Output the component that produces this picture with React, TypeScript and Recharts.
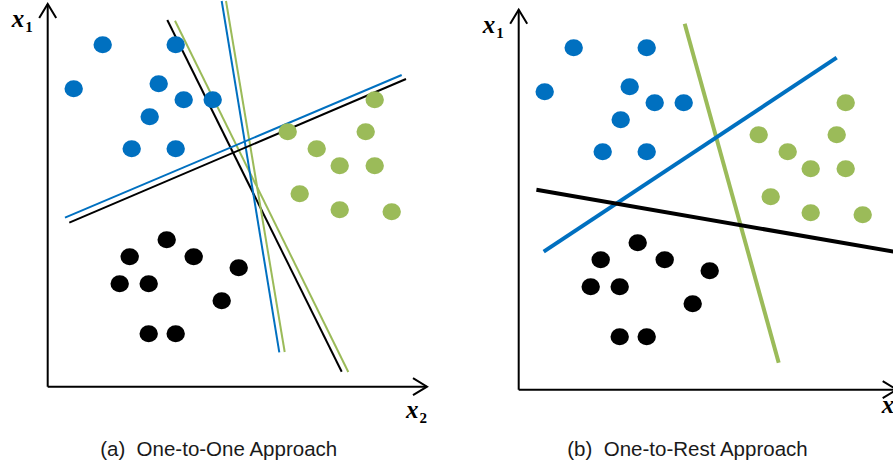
import { ReferenceLine, Scatter, ScatterChart, XAxis, YAxis } from "recharts";

type ClassKey = "blue" | "green" | "black";
type Pt = { x: number; y: number };
type Boundary = { cls: ClassKey; x1: number; y1: number; x2: number; y2: number };

// feature space (x2 across, x1 up), same samples in both panels
const blueClass: Pt[] = [
  { x: 5.5, y: 34.2 },
  { x: 12.8, y: 34.2 },
  { x: 2.6, y: 29.8 },
  { x: 11.1, y: 30.3 },
  { x: 13.6, y: 28.7 },
  { x: 16.5, y: 28.7 },
  { x: 10.2, y: 27.0 },
  { x: 8.4, y: 23.8 },
  { x: 12.8, y: 23.8 },
];

const greenClass: Pt[] = [
  { x: 32.7, y: 28.7 },
  { x: 24.0, y: 25.5 },
  { x: 31.8, y: 25.5 },
  { x: 26.9, y: 23.8 },
  { x: 29.2, y: 22.1 },
  { x: 32.7, y: 22.1 },
  { x: 25.2, y: 19.3 },
  { x: 29.2, y: 17.7 },
  { x: 34.4, y: 17.5 },
];

const blackClass: Pt[] = [
  { x: 11.9, y: 14.7 },
  { x: 8.2, y: 13.0 },
  { x: 14.6, y: 13.0 },
  { x: 19.1, y: 11.9 },
  { x: 7.2, y: 10.3 },
  { x: 10.1, y: 10.3 },
  { x: 17.4, y: 8.6 },
  { x: 10.1, y: 5.3 },
  { x: 12.8, y: 5.3 },
];

// pairwise separators
const oneToOneBoundaries: Boundary[] = [
  { cls: "black", x1: 11.96, y1: 36.67, x2: 29.4, y2: 1.5 },
  { cls: "green", x1: 12.73, y1: 36.6, x2: 30.06, y2: 1.47 },
  { cls: "blue", x1: 17.4, y1: 38.57, x2: 23.16, y2: 3.44 },
  { cls: "green", x1: 17.83, y1: 38.57, x2: 23.7, y2: 3.47 },
  { cls: "blue", x1: 1.73, y1: 16.9, x2: 35.4, y2: 31.17 },
  { cls: "black", x1: 2.16, y1: 16.4, x2: 35.83, y2: 30.77 },
];

// one separator per class vs. the rest
const oneToRestBoundaries: Boundary[] = [
  { cls: "green", x1: 16.6, y1: 36.6, x2: 26.0, y2: 2.7 },
  { cls: "blue", x1: 2.5, y1: 13.8, x2: 31.8, y2: 33.2 },
  { cls: "black", x1: 1.77, y1: 20.0, x2: 37.5, y2: 13.8 },
];

const captions = ["(a)  One-to-One Approach", "(b)  One-to-Rest Approach"];

const classColor: Record<ClassKey, string> = {
  blue: "#0070C0",
  green: "#9BBB59",
  black: "#000000",
};

const CHART_W = 450;
const CHART_H = 465;
const margin = { top: 6.7, left: 47.7, right: 22.3, bottom: 78.3 };
const domain: [number, number] = [0, 38];

function dotShape(fill: string) {
  return (p: any) => (
    <ellipse cx={p.cx} cy={p.cy} rx={9.2} ry={8.5} fill={fill} />
  );
}

function arrowShape(name: string, sub: string, lx: number, ly: number) {
  return (p: any) => {
    const { x1, y1, x2, y2 } = p;
    const ang = Math.atan2(y2 - y1, x2 - x1);
    const len = 14;
    const half = 8.5;
    const bx = x2 - len * Math.cos(ang);
    const by = y2 - len * Math.sin(ang);
    const nx = -Math.sin(ang) * half;
    const ny = Math.cos(ang) * half;
    return (
      <g>
        <line x1={x1} y1={y1} x2={x2} y2={y2} stroke="#000" strokeWidth={2} />
        <polyline
          points={`${bx + nx},${by + ny} ${x2},${y2} ${bx - nx},${by - ny}`}
          fill="none"
          stroke="#000"
          strokeWidth={2}
        />
        <text
          x={x2 + lx}
          y={y2 + ly}
          fontFamily="'Liberation Serif', serif"
          fontWeight="bold"
          fontStyle="italic"
          fontSize={25}
          fill="#000"
        >
          {name}
          <tspan fontStyle="normal" fontSize={15} dx={1} dy={5}>
            {sub}
          </tspan>
        </text>
      </g>
    );
  };
}

function Panel({
  left,
  top,
  boundaries,
  strokeWidth,
  xTip,
  yTip,
  x2Label,
  x1Label,
}: {
  left: number;
  top: number;
  boundaries: Boundary[];
  strokeWidth: number;
  xTip: number;
  yTip: number;
  x2Label: [number, number];
  x1Label: [number, number];
}) {
  return (
    <div style={{ position: "absolute", left, top }}>
      <ScatterChart width={CHART_W} height={CHART_H} margin={margin}>
        <XAxis type="number" dataKey="x" domain={domain} hide />
        <YAxis type="number" dataKey="y" domain={domain} hide />
        <Scatter data={blueClass} shape={dotShape(classColor.blue)} isAnimationActive={false} />
        <Scatter data={greenClass} shape={dotShape(classColor.green)} isAnimationActive={false} />
        <Scatter data={blackClass} shape={dotShape(classColor.black)} isAnimationActive={false} />
        {boundaries.map((b, i) => (
          <ReferenceLine
            key={i}
            segment={[
              { x: b.x1, y: b.y1 },
              { x: b.x2, y: b.y2 },
            ]}
            stroke={classColor[b.cls]}
            strokeWidth={strokeWidth}
            ifOverflow="visible"
          />
        ))}
        <ReferenceLine
          segment={[
            { x: 0, y: 0 },
            { x: xTip, y: 0 },
          ]}
          ifOverflow="visible"
          shape={arrowShape("x", "2", x2Label[0], x2Label[1])}
        />
        <ReferenceLine
          segment={[
            { x: 0, y: 0 },
            { x: 0, y: yTip },
          ]}
          ifOverflow="visible"
          shape={arrowShape("x", "1", x1Label[0], x1Label[1])}
        />
      </ScatterChart>
    </div>
  );
}

function Caption({ text, center }: { text: string; center: number }) {
  return (
    <div
      style={{
        position: "absolute",
        left: center - 160,
        width: 320,
        top: 439.3,
        textAlign: "center",
        whiteSpace: "pre",
        fontFamily: "'Liberation Sans', Arial, sans-serif",
        fontSize: 20.5,
        lineHeight: "20.5px",
        color: "#1a1a1a",
      }}
    >
      {text}
    </div>
  );
}

export default function App() {
  return (
    <div
      style={{
        position: "absolute",
        left: 0,
        top: 0,
        width: 893,
        height: 465,
        overflow: "hidden",
        background: "#fff",
      }}
    >
      <Panel
        left={0}
        top={0}
        boundaries={oneToOneBoundaries}
        strokeWidth={2}
        xTip={37.93}
        yTip={38.27}
        x2Label={[-21, 31]}
        x1Label={[-36, 23]}
      />
      <Panel
        left={471.3}
        top={3.3}
        boundaries={oneToRestBoundaries}
        strokeWidth={4}
        xTip={37.8}
        yTip={38.0}
        x2Label={[-15, 23]}
        x1Label={[-36, 23]}
      />
      <Caption text={captions[0]} center={218.7} />
      <Caption text={captions[1]} center={687.5} />
    </div>
  );
}
